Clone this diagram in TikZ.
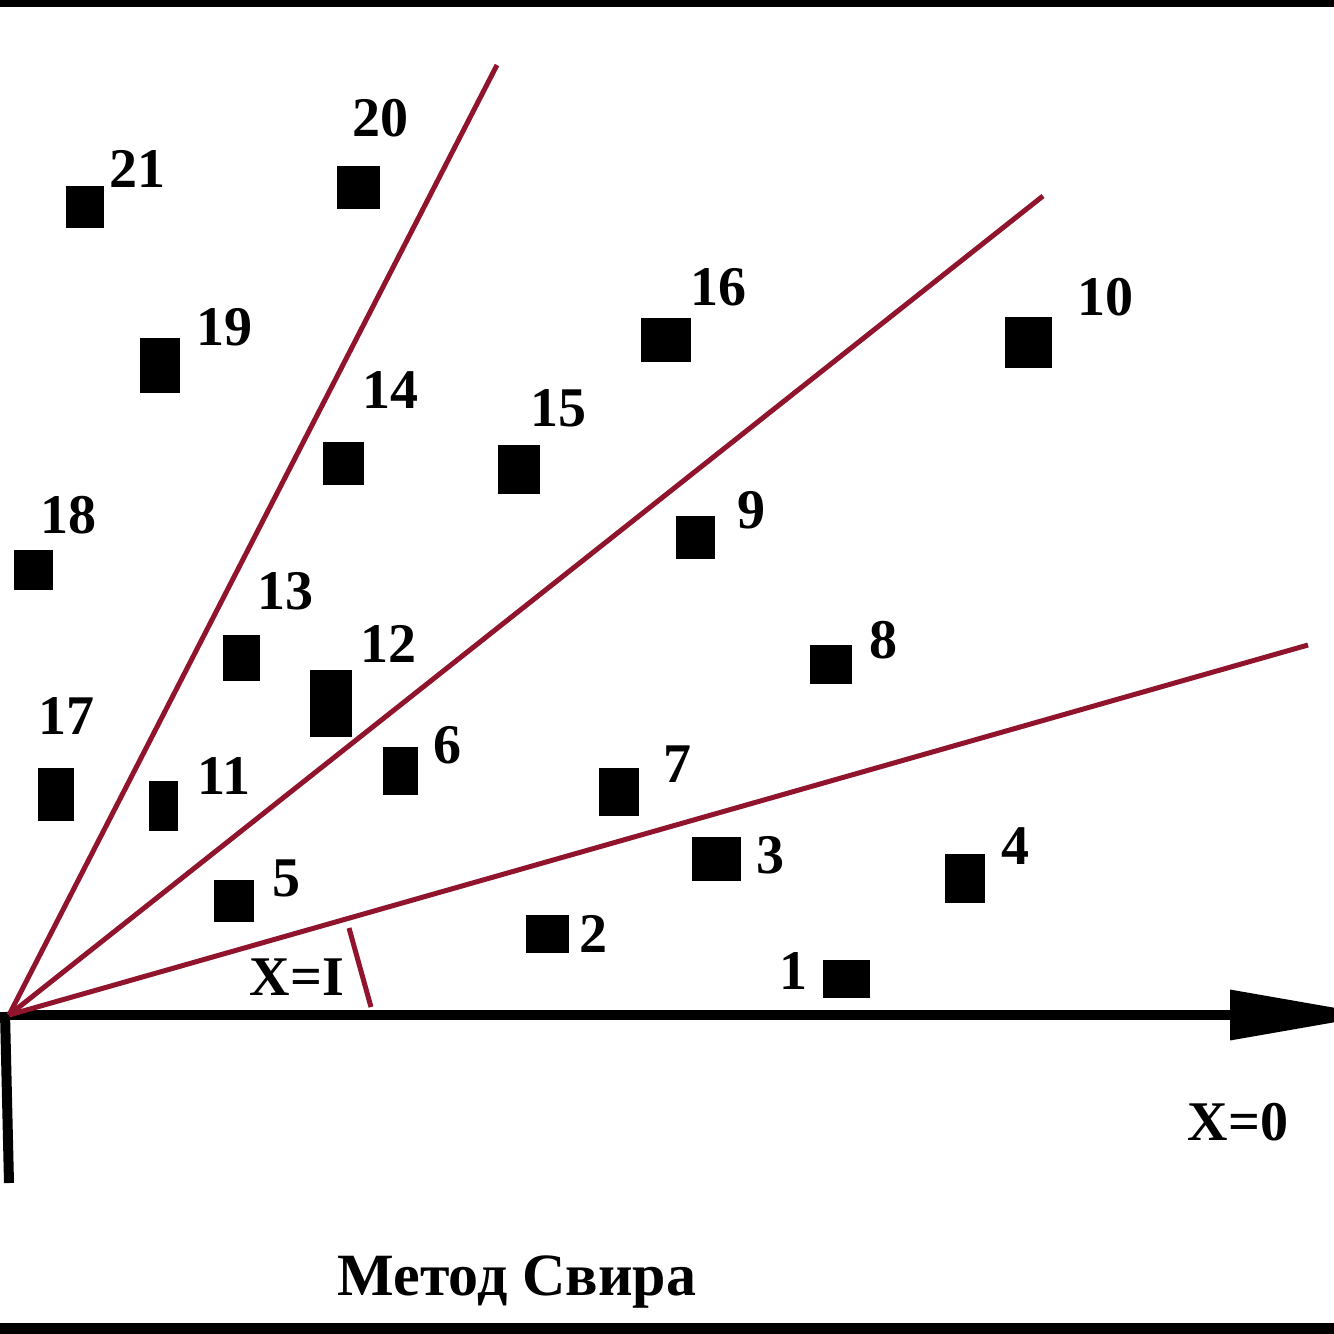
\documentclass[tikz,border=0pt]{standalone}
\usepackage{fontspec}
\setmainfont{Liberation Serif}
\usetikzlibrary{arrows.meta}
\definecolor{rayred}{RGB}{145,20,45}
\begin{document}
\begin{tikzpicture}[x=0.5pt,y=-0.5pt,
  sq/.style={fill=black,draw=none,inner sep=0pt},
  lbl/.style={inner sep=0pt,font=\fontsize{28pt}{30pt}\selectfont\bfseries},
  ray/.style={draw=rayred,line width=2.5pt},
  axis/.style={draw=black,line width=5pt}]
\useasboundingbox (0,0) rectangle (1334,1334);
\fill[white] (0,0) rectangle (1334,1334);
% borders
\fill[black] (0,0) rectangle (1334,7);
\fill[black] (0,1323) rectangle (1334,1334);
% origin and ray ends
\coordinate (O) at (9,1015);
\coordinate (r1) at (497,65);
\coordinate (r2) at (1043,196);
\coordinate (r3) at (1308,645);
\coordinate (xend) at (1378,1015);
\coordinate (vtop) at (5,1012);
\coordinate (vbot) at (9,1183);
\coordinate (t1) at (349,928);
\coordinate (t2) at (371,1007);
% axes
\draw[axis] (vtop) -- (vbot);
\draw[axis,-{Triangle[length=74pt,width=24pt]}] (O) -- (xend);
% rays
\draw[ray] (O) -- (r1);
\draw[ray] (O) -- (r2);
\draw[ray] (O) -- (r3);
\draw[ray] (t1) -- (t2);
% squares
\node[sq,minimum width=19pt,minimum height=21pt] (s21) at (85,207) {};
\node[sq,minimum width=21.5pt,minimum height=21.5pt] (s20) at (358,187) {};
\node[sq,minimum width=20pt,minimum height=27.5pt] (s19) at (160,365) {};
\node[sq,minimum width=25pt,minimum height=22pt] (s16) at (666,340) {};
\node[sq,minimum width=23.5pt,minimum height=25.5pt] (s10) at (1028,342) {};
\node[sq,minimum width=20.5pt,minimum height=21.5pt] (s14) at (343,463) {};
\node[sq,minimum width=21pt,minimum height=24.5pt] (s15) at (519,469) {};
\node[sq,minimum width=19.5pt,minimum height=20pt] (s18) at (33,570) {};
\node[sq,minimum width=19.5pt,minimum height=21.5pt] (s9) at (695,537) {};
\node[sq,minimum width=18.5pt,minimum height=23pt] (s13) at (241,658) {};
\node[sq,minimum width=21pt,minimum height=33.5pt] (s12) at (331,703) {};
\node[sq,minimum width=21pt,minimum height=19.5pt] (s8) at (831,664) {};
\node[sq,minimum width=18pt,minimum height=26.5pt] (s17) at (56,794) {};
\node[sq,minimum width=14.5pt,minimum height=25pt] (s11) at (163,806) {};
\node[sq,minimum width=17.5pt,minimum height=24pt] (s6) at (400,771) {};
\node[sq,minimum width=20pt,minimum height=24pt] (s7) at (619,792) {};
\node[sq,minimum width=24.5pt,minimum height=22pt] (s3) at (716,859) {};
\node[sq,minimum width=20pt,minimum height=24.5pt] (s4) at (965,878) {};
\node[sq,minimum width=20pt,minimum height=21pt] (s5) at (234,901) {};
\node[sq,minimum width=21.5pt,minimum height=19pt] (s2) at (547,934) {};
\node[sq,minimum width=23.5pt,minimum height=19pt] (s1) at (846,979) {};
% labels
\node[lbl] (l21) at (137,169) {21};
\node[lbl] (l20) at (380,118) {20};
\node[lbl] (l19) at (224,327) {19};
\node[lbl] (l16) at (718,287) {16};
\node[lbl] (l10) at (1105,297) {10};
\node[lbl] (l14) at (390,390) {14};
\node[lbl] (l15) at (558,408) {15};
\node[lbl] (l18) at (68,515) {18};
\node[lbl] (l9) at (751,510) {9};
\node[lbl] (l13) at (285,591) {13};
\node[lbl] (l12) at (388,644) {12};
\node[lbl] (l8) at (883,640) {8};
\node[lbl] (l17) at (67,716) {17};
\node[lbl] (l11) at (224,776) {11};
\node[lbl] (l6) at (447,745) {6};
\node[lbl] (l7) at (677,764) {7};
\node[lbl] (l3) at (770,855) {3};
\node[lbl] (l4) at (1015,846) {4};
\node[lbl] (l5) at (286,878) {5};
\node[lbl] (l2) at (593,934) {2};
\node[lbl] (l1) at (793,971) {1};
\node[lbl] (xi) at (297,977) {X=I};
\node[lbl] (x0) at (1238,1122) {X=0};
\node[inner sep=0pt,anchor=base,font=\fontsize{30pt}{32pt}\selectfont\bfseries] (title) at (517,1295) {Метод Свира};
\end{tikzpicture}
\end{document}
